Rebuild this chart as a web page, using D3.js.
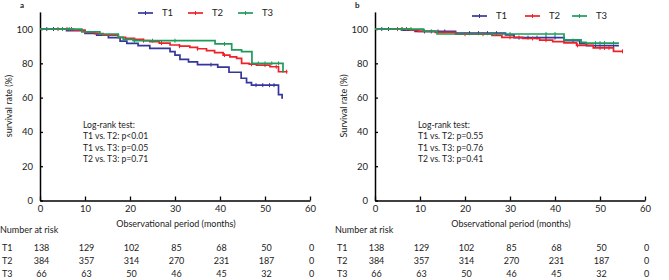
<!DOCTYPE html>
<html><head><meta charset="utf-8">
<script src="https://cdn.jsdelivr.net/npm/d3@7"></script>
<style>
body{margin:0;background:#fff;}
text{font-family:Lato,"Open Sans",sans-serif;fill:#222;}
</style></head>
<body><svg id="c" width="669" height="280"></svg>
<script>
// ---------- data ----------
const seriesNames = ["T1","T2","T3"];
const xTicks = [0,10,20,30,40,50,60];
const yTicks = [0,20,40,60,80,100];
const riskTimes = [0,10,20,30,40,50,60];
const riskT1 = [138,129,102,85,68,50,0];
const riskT2 = [384,357,314,270,231,187,0];
const riskT3 = [66,63,50,46,45,32,0];

// panel a: [time, survival %] steps
const aT1 = [[0,100],[5.9,99],[10,97.5],[12.6,96.5],[15.2,95],[17.8,93],[19.3,91.7],[21.8,90.3],[24.4,88.7],[28.9,86.8],[30,84.8],[31.1,82.3],[33,80.8],[35,79.2],[39.5,77.8],[42,74.8],[44.7,71.3],[45.9,68.7],[47,67.3],[53,61.8],[53.8,59.8],[54,59.8]];
const aT2 = [[0,100],[7.4,99.4],[10,98],[12.2,97.3],[14,96.5],[17.4,95.2],[19,94.6],[21,94],[23,93.2],[24.4,92.6],[26.5,91.8],[28.9,90.7],[31,90],[33.3,89.3],[35,88.5],[37,87.4],[38.8,86.2],[40.7,84.8],[42.2,83.8],[43.7,82.9],[44.8,80],[46.5,79.5],[48.1,79],[51.1,78],[53,75.1],[55,75.1]];
const aT3 = [[0,100],[9.3,98.4],[13.3,97],[17.4,95.2],[18.5,94],[20.7,93.2],[38.9,91.3],[42.6,87.8],[44.8,86.8],[47.1,80],[54,75.1],[54.2,75.1]];
const aCens1 = [1.5,3,38,48,49.5,51,52];
const aCens2 = [4,5,6,7,23,27,31,35,41,47,50,52.5,54.8];
const aCens3 = [5,6.5,21,25,30,41,48.5,50,51.5,53];

// panel b
const bT1 = [[0,100],[5.9,99.4],[8.9,98.6],[17.9,97.6],[29,96.6],[30.9,95],[42,93.2],[45.5,91.5],[47,90.3],[54.2,90.3]];
const bT2 = [[0,100],[7.8,99.4],[9.6,98.6],[13.4,98],[17.9,97],[26,96.3],[28.2,95.2],[32.8,94.5],[36.6,93.5],[39.5,92.7],[42,91.9],[44.8,90.5],[48.5,89],[53,87],[55,87]];
const bT3 = [[0,100],[10.8,98.6],[13.8,97.1],[42,93.7],[45.8,92.2],[46.9,91.8],[54.2,91.8]];
const bCens1 = [1.5,3,11,12.5,14,15.5,21,23,25,27,32,34,36,38,40,44,49,51,53];
const bCens2 = [5,6,7,20,24,30,35,38,45,50,51,52,55];
const bCens3 = [6,8,26,30,38,40,49,50,51,53];

const logRankA = ["Log-rank test:","T1 vs. T2: p<0.01","T1 vs. T3: p=0.05","T2 vs. T3: p=0.71"];
const logRankB = ["Log-rank test:","T1 vs. T2: p=0.55","T1 vs. T3: p=0.76","T2 vs. T3: p=0.41"];

const colors = ["#34369b","#ee2028","#1f9a5c"];

// ---------- drawing ----------
const svg = d3.select("#c");

function panel(ox, letter, yLabel, curves, cens, logRank, legendX, legendY) {
  const g = svg.append("g");
  const x = d3.scaleLinear().domain([0,60]).range([ox+40, ox+310]);
  const y = d3.scaleLinear().domain([0,110]).range([200.5, 11.9]);

  // axes
  const xa = g.append("g").attr("transform","translate(0,200.5)")
    .call(d3.axisBottom(x).tickValues(xTicks).tickSize(-4).tickSizeOuter(0).tickPadding(6));
  const ya = g.append("g").attr("transform",`translate(${ox+40},0)`)
    .call(d3.axisLeft(y).tickValues(yTicks).tickSize(-3).tickSizeOuter(0).tickPadding(7));
  [xa,ya].forEach(a=>{
    a.select(".domain").attr("stroke","#000").attr("stroke-width",1.5);
    a.selectAll(".tick line").attr("stroke","#000").attr("stroke-width",1.3);
    a.selectAll(".tick text").style("font-size","9.5px").attr("fill","#222").style("font-family","Lato,sans-serif");
  });
  xa.selectAll(".tick text").attr("dy","0.6em");

  // curves
  const line = d3.line().x(d=>x(d[0])).y(d=>y(d[1])).curve(d3.curveStepAfter);
  function survAt(c,t){ let s=c[0][1]; for(const p of c){ if(p[0]<=t) s=p[1]; } return s; }
  curves.forEach((c,i)=>{
    g.append("path").attr("d",line(c)).attr("fill","none")
      .attr("stroke",colors[i]).attr("stroke-width",1.7);
    g.selectAll(null).data(cens[i]).enter().append("line")
      .attr("x1",t=>x(t)).attr("x2",t=>x(t))
      .attr("y1",t=>y(survAt(c,t))-2).attr("y2",t=>y(survAt(c,t))+2)
      .attr("stroke",colors[i]).attr("stroke-width",1);
  });

  // legend
  seriesNames.forEach((n,i)=>{
    const lx = legendX[i];
    g.append("line").attr("x1",lx).attr("x2",lx+15).attr("y1",legendY).attr("y2",legendY)
      .attr("stroke",colors[i]).attr("stroke-width",1.7);
    g.append("line").attr("x1",lx+7.5).attr("x2",lx+7.5).attr("y1",legendY-2).attr("y2",legendY+2)
      .attr("stroke",colors[i]).attr("stroke-width",1);
    g.append("text").attr("x",lx+24).attr("y",legendY).attr("dy","0.35em")
      .style("font-size","9.5px").text(n);
  });

  // panel letter
  g.append("text").attr("x",ox+20).attr("y",8).style("font-size","8px").style("font-weight","bold").text(letter);

  // y label
  g.append("text").attr("transform",`translate(${ox+9},106) rotate(-90)`)
    .attr("text-anchor","middle").attr("dy","0.35em").style("font-size","9px").text(yLabel);

  // x title
  g.append("text").attr("x",ox+176).attr("y",224).attr("text-anchor","middle").attr("dy","0.35em")
    .style("font-size","9px").text("Observational period (months)");

  // log-rank
  logRank.forEach((s,i)=>{
    g.append("text").attr("x",ox+83).attr("y",125+i*11.4).attr("dy","0.35em")
      .style("font-size","8.6px").text(s);
  });

  // number at risk
  g.append("text").attr("x",ox+0).attr("y",229.5).attr("dy","0.35em").style("font-size","9px").text("Number at risk");
  [riskT1,riskT2,riskT3].forEach((row,i)=>{
    const ry = 247.7 + i*13.2;
    g.append("text").attr("x",ox+2).attr("y",ry).attr("dy","0.35em").style("font-size","9px").text(seriesNames[i]);
    g.selectAll(null).data(row).enter().append("text")
      .attr("x",(d,j)=>x(riskTimes[j])+1.5).attr("y",ry).attr("dy","0.35em")
      .attr("text-anchor","middle").style("font-size","9px").text(d=>d);
  });
}

panel(0, "a", "survival rate (%)", [aT1,aT2,aT3], [aCens1,aCens2,aCens3], logRankA, [138,188,238], 13);
panel(335, "b", "Survival rate (%)", [bT1,bT2,bT3], [bCens1,bCens2,bCens3], logRankB, [472,525,572], 16);
</script></body></html>
